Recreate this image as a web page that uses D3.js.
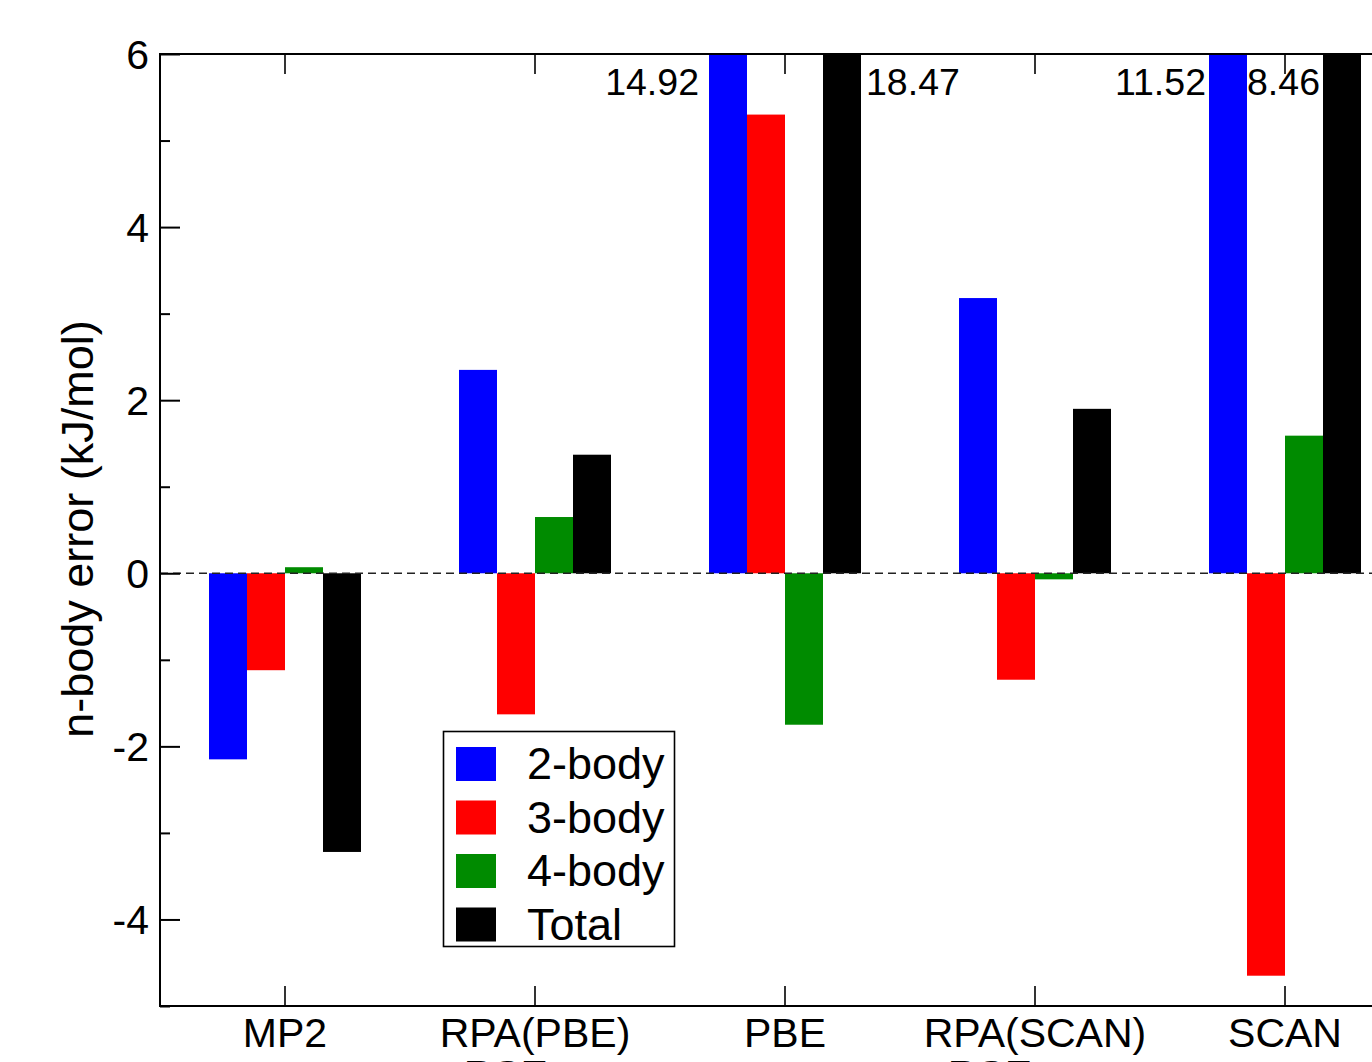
<!DOCTYPE html>
<html>
<head>
<meta charset="utf-8">
<script src="https://cdn.jsdelivr.net/npm/d3@7"></script>
<style>
  html, body { margin: 0; padding: 0; background: #fff; }
  svg { display: block; font-family: "Liberation Sans", Arial, Helvetica, sans-serif; }
</style>
</head>
<body>
<svg id="chart" width="1372" height="1062"></svg>
<script>
// ---- data ----
const categories = ["MP2", "RPA(PBE)", "PBE", "RPA(SCAN)", "SCAN"];
const categorySubLabels = ["", "+RSE", "", "+RSE", ""];
const seriesNames = ["2-body", "3-body", "4-body", "Total"];
const seriesColors = ["#0000ff", "#ff0000", "#008b00", "#000000"];
const twoBody   = [-2.15, 2.35, 14.92, 3.18, 11.52];
const threeBody = [-1.12, -1.63, 5.30, -1.23, -4.65];
const fourBody  = [0.07, 0.65, -1.75, -0.07, 1.59];
const totalBody = [-3.22, 1.37, 18.47, 1.90, 8.46];
const yTicksMajor = [-4, -2, 0, 2, 4, 6];
const yTicksMinor = [-5, -3, -1, 1, 3, 5];
const yLabel = "n-body error (kJ/mol)";
// off-scale value annotations: [category index, series index, side]
const annotations = [
  [2, 0, "left"], [2, 3, "right"], [4, 0, "left-close"], [4, 3, "left-inner"]
];

const seriesValues = [twoBody, threeBody, fourBody, totalBody];

// ---- layout ----
const svg = d3.select("#chart");
const plot = { left: 160, top: 54, right: 1410, bottom: 1006 };

const x = d3.scaleBand().domain(categories).range([plot.left, plot.right]).padding(0);
const xs = d3.scaleBand().domain(seriesNames).range([-76, 76]).padding(0);
const y = d3.scaleLinear().domain([-5, 6]).range([plot.bottom, plot.top]);

svg.append("defs").append("clipPath").attr("id", "clip")
  .append("rect")
  .attr("x", plot.left).attr("y", plot.top)
  .attr("width", plot.right - plot.left).attr("height", plot.bottom - plot.top);

// bars
const barData = [];
categories.forEach((c, i) => {
  seriesNames.forEach((s, j) => {
    barData.push({ cat: c, ser: s, val: seriesValues[j][i], color: seriesColors[j] });
  });
});

svg.append("g").attr("clip-path", "url(#clip)")
  .selectAll("rect").data(barData).join("rect")
  .attr("x", d => x(d.cat) + x.bandwidth() / 2 + xs(d.ser))
  .attr("width", xs.bandwidth())
  .attr("y", d => y(Math.max(0, d.val)))
  .attr("height", d => Math.abs(y(d.val) - y(0)))
  .attr("fill", d => d.color);

// zero dashed line
svg.append("line")
  .attr("x1", plot.left).attr("x2", plot.right)
  .attr("y1", y(0)).attr("y2", y(0))
  .attr("stroke", "#222").attr("stroke-width", 1.6)
  .attr("stroke-dasharray", "8,5");

// frame
svg.append("rect")
  .attr("x", plot.left).attr("y", plot.top)
  .attr("width", plot.right - plot.left).attr("height", plot.bottom - plot.top)
  .attr("fill", "none").attr("stroke", "#000").attr("stroke-width", 2);

// y axis (ticks inward)
const yAxisMajor = d3.axisRight(y).tickValues(yTicksMajor).tickSize(20).tickFormat("");
const yAxisMinor = d3.axisRight(y).tickValues(yTicksMinor).tickSize(10).tickFormat("");
[yAxisMajor, yAxisMinor].forEach(ax => {
  const g = svg.append("g").attr("transform", `translate(${plot.left},0)`).call(ax);
  g.select(".domain").remove();
  g.selectAll("line").attr("stroke", "#000").attr("stroke-width", 2);
});
svg.append("g").selectAll("text").data(yTicksMajor).join("text")
  .attr("x", 149).attr("y", d => y(d) + 15)
  .attr("text-anchor", "end")
  .attr("font-size", 41).attr("fill", "#000")
  .text(d => d < 0 ? "-" + Math.abs(d) : String(d));

// x axis ticks: bottom (up) and top (down)
const xb = d3.axisTop(x).tickSize(20).tickFormat("");
const gb = svg.append("g").attr("transform", `translate(0,${plot.bottom})`).call(xb);
gb.select(".domain").remove();
gb.selectAll("line").attr("stroke", "#000").attr("stroke-width", 1.6);
const xt = d3.axisBottom(x).tickSize(20).tickFormat("");
const gt = svg.append("g").attr("transform", `translate(0,${plot.top})`).call(xt);
gt.select(".domain").remove();
gt.selectAll("line").attr("stroke", "#000").attr("stroke-width", 1.6);

// x tick labels
categories.forEach((c, i) => {
  const cx = x(c) + x.bandwidth() / 2;
  const t = svg.append("text")
    .attr("x", cx).attr("y", 1047)
    .attr("text-anchor", "middle")
    .attr("font-size", 41).attr("fill", "#000")
    .text(c);
  if (categorySubLabels[i]) {
    const w = t.node().getComputedTextLength();
    svg.append("text")
      .attr("x", cx - w / 2).attr("y", 1089)
      .attr("text-anchor", "start")
      .attr("font-size", 41).attr("fill", "#000")
      .text(categorySubLabels[i]);
  }
});

// y label
svg.append("text")
  .attr("transform", `translate(93,${(plot.top + plot.bottom) / 2 - 1}) rotate(-90)`)
  .attr("text-anchor", "middle")
  .attr("font-size", 45).attr("fill", "#000")
  .text(yLabel);

// annotations for off-scale values
annotations.forEach(([ci, si, side]) => {
  const c = categories[ci], s = seriesNames[si];
  const bx = x(c) + x.bandwidth() / 2 + xs(s);
  const v = seriesValues[si][ci].toFixed(2);
  let tx, anchor;
  if (side === "left") { tx = bx - 10; anchor = "end"; }
  else if (side === "left-close") { tx = bx - 3; anchor = "end"; }
  else if (side === "right") { tx = bx + xs.bandwidth() + 5; anchor = "start"; }
  else { tx = bx - 3; anchor = "end"; }
  svg.append("text")
    .attr("x", tx).attr("y", 95)
    .attr("text-anchor", anchor)
    .attr("font-size", 37.5).attr("fill", "#000")
    .text(v);
});

// legend
const lg = svg.append("g");
lg.append("rect")
  .attr("x", 443.5).attr("y", 731.5).attr("width", 231).attr("height", 215)
  .attr("fill", "#fff").attr("stroke", "#000").attr("stroke-width", 1.6);
seriesNames.forEach((s, j) => {
  const cy = 764 + j * 53.5;
  lg.append("rect")
    .attr("x", 456).attr("y", cy - 17).attr("width", 40).attr("height", 34)
    .attr("fill", seriesColors[j]);
  lg.append("text")
    .attr("x", 527).attr("y", cy + 15)
    .attr("font-size", 45).attr("fill", "#000")
    .text(s);
});
</script>
</body>
</html>
